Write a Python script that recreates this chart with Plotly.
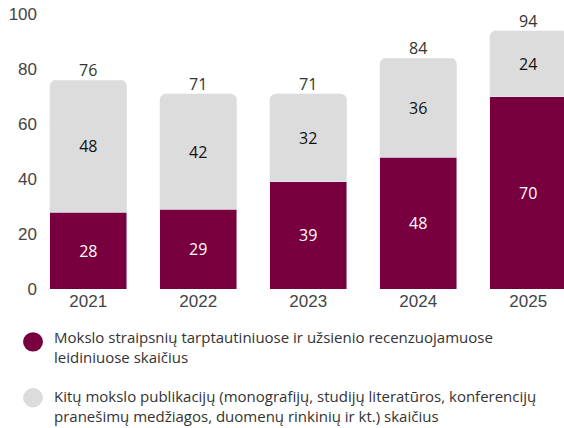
import plotly.graph_objects as go

years = ["2021", "2022", "2023", "2024", "2025"]
intl_articles = [28, 29, 39, 48, 70]
other_pubs = [48, 42, 32, 36, 24]
totals = [76, 71, 71, 84, 94]

legend_labels = [
    "Mokslo straipsnių tarptautiniuose ir užsienio recenzuojamuose<br>leidiniuose skaičius",
    "Kitų mokslo publikacijų (monografijų, studijų literatūros, konferencijų<br>pranešimų medžiagos, duomenų rinkinių ir kt.) skaičius",
]

MAROON = "#79003f"
GREY = "#dcdcdc"
FONT = "Open Sans, Noto Sans, sans-serif"
AXFONT = "Liberation Sans, Arial, sans-serif"

fig = go.Figure()
fig.add_trace(go.Bar(
    x=years, y=intl_articles, marker_color=MAROON, width=0.7,
    text=[str(v) for v in intl_articles], textposition="inside",
    insidetextanchor="middle", textfont=dict(color="white", size=16, family=FONT),
    name=legend_labels[0], showlegend=False,
))
fig.add_trace(go.Bar(
    x=years, y=other_pubs, marker_color=GREY, width=0.7,
    text=[str(v) for v in other_pubs], textposition="inside",
    insidetextanchor="middle", textfont=dict(color="#111111", size=16, family=FONT),
    name=legend_labels[1], showlegend=False,
))
fig.add_trace(go.Scatter(
    x=years, y=totals, mode="text", text=[str(v) for v in totals],
    textposition="top center", textfont=dict(color="#333333", size=16, family=FONT),
    showlegend=False, hoverinfo="skip",
))

fig.update_layout(
    width=564, height=428,
    margin=dict(l=38, r=0, t=5, b=139),
    barmode="stack", barcornerradius=6,
    plot_bgcolor="white", paper_bgcolor="white",
    font=dict(family=FONT, color="#333333"),
    uniformtext=dict(minsize=8, mode="show"),
)
fig.update_xaxes(
    type="category", range=[-0.457, 4.325], showgrid=False, showline=False,
    ticks="", tickfont=dict(size=17, color="#444444", family=AXFONT),
)
fig.update_yaxes(
    range=[0, 103.3], tickvals=[0, 20, 40, 60, 80, 100], showgrid=False,
    zeroline=False, showline=False, ticks="",
    tickfont=dict(size=17, color="#444444", family=AXFONT),
)

# legend drawn manually
circle_y = [-0.186, -0.383]
text_y = [-0.2025, -0.4137]
colors = [MAROON, GREY]
for cy, ty, col, lab in zip(circle_y, text_y, colors, legend_labels):
    fig.add_shape(type="circle", xref="paper", yref="paper",
                  x0=-0.0285, x1=0.0095, y0=cy - 0.034, y1=cy + 0.034,
                  fillcolor=col, line=dict(width=0))
    fig.add_annotation(xref="paper", yref="paper", x=0.0266, y=ty,
                       xanchor="left", yanchor="middle", align="left",
                       text=lab, showarrow=False,
                       font=dict(size=15, color="#333333", family=FONT))

fig.write_html("out.html", config={"displayModeBar": False},
               post_script="document.body.style.margin='0';")
